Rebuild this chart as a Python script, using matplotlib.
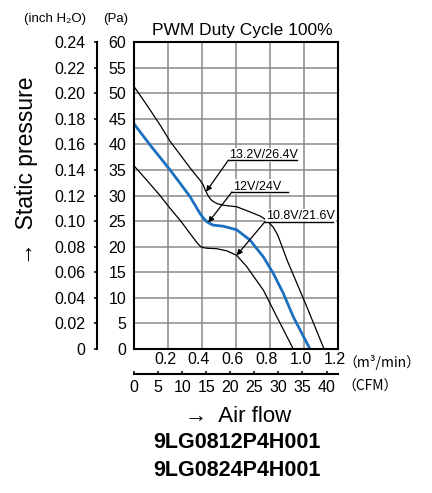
import numpy as np
import matplotlib
matplotlib.use('Agg')
import matplotlib.pyplot as plt
from matplotlib.transforms import ScaledTranslation

plt.rcParams['font.family'] = ['Liberation Sans', 'DejaVu Sans']

# air flow (m3/min) and static pressure (Pa)
flow_hi = [0, 0.075, 0.153, 0.212, 0.271, 0.339, 0.388, 0.405, 0.42, 0.437, 0.452,
           0.467, 0.49, 0.525, 0.604, 0.682, 0.741, 0.78, 0.819, 0.845, 0.868,
           0.90, 0.937, 1.016, 1.118]
pres_hi = [51.3, 47.7, 43.8, 40.6, 38.0, 35.0, 33.0, 32.2, 31.0, 29.9, 29.2,
           28.8, 28.4, 28.1, 27.8, 26.8, 26.0, 25.2, 23.8, 22.3, 20.3,
           17.4, 14.5, 8.3, 0]

flow_mid = [0, 0.094, 0.212, 0.271, 0.329, 0.388, 0.41, 0.428, 0.447, 0.467,
            0.525, 0.604, 0.682, 0.761, 0.819, 0.878, 0.937, 1.035]
pres_mid = [44.0, 39.9, 35.0, 32.4, 29.8, 26.5, 25.5, 24.9, 24.5, 24.2,
            24.0, 23.3, 21.3, 18.0, 14.8, 10.9, 6.3, 0]

flow_lo = [0, 0.075, 0.153, 0.212, 0.275, 0.329, 0.37, 0.392, 0.41, 0.428,
           0.486, 0.545, 0.604, 0.663, 0.761, 0.84, 0.937]
pres_lo = [35.8, 33.0, 30.0, 27.5, 25.0, 22.6, 20.8, 20.0, 19.8, 19.7,
           19.6, 19.2, 18.3, 16.1, 11.5, 6.3, 0]

# voltage labels: text, arrow tip flow, label flow start/end, label pressure
labels = ['13.2V/26.4V', '12V/24V', '10.8V/21.6V']
tip_flow = [0.424, 0.437, 0.604]
lab_x0 = [0.555, 0.576, 0.771]
lab_x1 = [0.959, 0.906, 1.171]
lab_y = [36.9, 30.7, 24.9]

m3_ticks = [0.2, 0.4, 0.6, 0.8, 1.0, 1.2]
pa_ticks = list(range(0, 65, 5))
inch_labels = ['0', '0.02', '0.04', '0.06', '0.08', '0.10', '0.12',
               '0.14', '0.16', '0.18', '0.20', '0.22', '0.24']
cfm_ticks = list(range(0, 45, 5))
CFM_TO_M3 = 0.0283168

W, H = 432, 493


def fx(px):
    return px / W


def fy(py):
    return 1 - py / H


fig = plt.figure(figsize=(W / 100, H / 100), dpi=100)
ax = fig.add_axes([fx(134), fy(349), 204 / W, 307 / H])
ax.set_xlim(0, 1.2)
ax.set_ylim(0, 60)
ax.set_xticks(m3_ticks)
ax.set_xticklabels([f'{v:.1f}' for v in m3_ticks])
ax.set_yticks(pa_ticks)
ax.set_yticklabels([str(v) for v in pa_ticks])
ax.tick_params(length=0, labelsize=11.5)
ax.tick_params(axis='y', pad=5.5)
ax.tick_params(axis='x', pad=2)
shift = ScaledTranslation(-3 / 100, 0, fig.dpi_scale_trans)
for lab in ax.get_xticklabels():
    lab.set_transform(lab.get_transform() + shift)
ax.grid(True, color='#8a8a8a', lw=1.1)
ax.set_axisbelow(True)
for s in ax.spines.values():
    s.set_linewidth(1.5)
    s.set_color('black')
    s.set_zorder(10)

curves = [(flow_hi, pres_hi, 'black', 0.9),
          (flow_mid, pres_mid, '#1b70c0', 2.0),
          (flow_lo, pres_lo, 'black', 0.9)]
for fl, pr, col, lw in curves:
    ax.plot(fl, pr, color=col, lw=lw, zorder=4, solid_joinstyle='round')

for (fl, pr, _, _), txt, tx, x0, x1, y in zip(curves, labels, tip_flow, lab_x0, lab_x1, lab_y):
    ty = np.interp(tx, fl, pr)
    ax.text(x0 + 0.004, y + 0.45, txt, fontsize=9, ha='left', va='baseline',
            bbox=dict(fc='white', ec='none', pad=0.8), zorder=5)
    ax.plot([x0, x1], [y, y], color='black', lw=1.0, zorder=6)
    ax.annotate('', xy=(tx, ty), xytext=(x0, y),
                arrowprops=dict(arrowstyle='-|>', color='black', lw=0.9,
                                mutation_scale=8, shrinkA=0, shrinkB=0),
                zorder=6)

# inch H2O scale
ax_in = fig.add_axes([fx(97), fy(349), 0, 307 / H])
ax_in.set_ylim(0, 60)
ax_in.set_yticks(pa_ticks)
ax_in.set_yticklabels(inch_labels)
ax_in.tick_params(axis='y', length=2.5, width=1.1, pad=6, labelsize=11.5)
ax_in.xaxis.set_visible(False)
for k in ['top', 'right', 'bottom']:
    ax_in.spines[k].set_visible(False)
ax_in.spines['left'].set_linewidth(1.5)

# CFM scale
ax_cfm = fig.add_axes([fx(134), fy(374), 204 / W, 0])
ax_cfm.set_xlim(0, 1.2 / CFM_TO_M3)
ax_cfm.set_xticks(cfm_ticks)
ax_cfm.set_xticklabels([str(v) for v in cfm_ticks])
ax_cfm.tick_params(axis='x', direction='in', length=2.5, width=1.1, pad=4.5, labelsize=11.5)
ax_cfm.yaxis.set_visible(False)
for k in ['top', 'right', 'left']:
    ax_cfm.spines[k].set_visible(False)
ax_cfm.spines['bottom'].set_linewidth(1.5)

cjk = ['Noto Sans CJK JP', 'DejaVu Sans']
fig.text(fx(55), fy(19), '(inch H₂O)', fontsize=9.5, ha='center', va='center')
fig.text(fx(116), fy(19), '(Pa)', fontsize=9.5, ha='center', va='center')
fig.text(fx(242.5), fy(30), 'PWM Duty Cycle 100%', fontsize=12.5, ha='center', va='center')
fig.text(fx(382), fy(362), '（m³/min）', fontsize=10, ha='center', va='center', family=cjk)
fig.text(fx(370.5), fy(387), '（CFM）', fontsize=10, ha='center', va='center', family=cjk)
fig.text(fx(27), fy(171), '→  Static pressure', fontsize=16.5, rotation=90,
         ha='center', va='center')
fig.text(fx(238.5), fy(417), '→  Air flow', fontsize=16, ha='center', va='center')
fig.text(fx(237), fy(443), '9LG0812P4H001', fontsize=15.5, fontweight='bold',
         ha='center', va='center')
fig.text(fx(237), fy(470), '9LG0824P4H001', fontsize=15.5, fontweight='bold',
         ha='center', va='center')

fig.savefig('out.png', dpi=100)
